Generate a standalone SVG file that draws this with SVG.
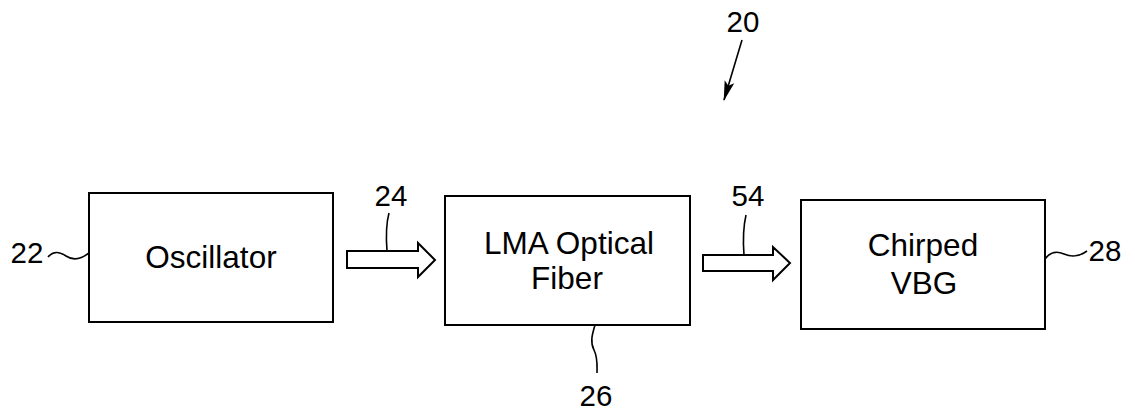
<svg xmlns="http://www.w3.org/2000/svg" width="1135" height="416" viewBox="0 0 1135 416">
<style>
.box{fill:#fff;stroke:#000;stroke-width:2}
.lbl{font-family:"Liberation Sans",Arial,sans-serif;font-size:31.5px;fill:#000;text-anchor:middle}
.num{font-family:"Liberation Sans",Arial,sans-serif;font-size:29.5px;fill:#000;text-anchor:middle}
.lead{fill:none;stroke:#000;stroke-width:1.6}
.blk{fill:#fff;stroke:#000;stroke-width:2;stroke-linejoin:miter}
</style>
<defs>
<marker id="ah" markerWidth="20" markerHeight="12" refX="19" refY="6" orient="auto" markerUnits="userSpaceOnUse">
<path d="M0,1 L20,6 L0,11 L4,6 Z" fill="#000"/>
</marker>
</defs>
<rect width="1135" height="416" fill="#fff"/>
<g id="node-oscillator">
<rect class="box" x="89" y="193" width="244" height="129"/>
<text class="lbl" x="211" y="268">Oscillator</text>
</g>
<g id="node-fiber">
<rect class="box" x="445" y="196" width="245" height="129"/>
<text class="lbl" x="569" y="254">LMA Optical</text>
<text class="lbl" x="567" y="289">Fiber</text>
</g>
<g id="node-vbg">
<rect class="box" x="801" y="200" width="244" height="129"/>
<text class="lbl" x="923" y="256">Chirped</text>
<text class="lbl" x="924" y="294">VBG</text>
</g>
<g id="connectors">
<path id="arrow24" class="blk" d="M347,251 L418,251 L418,243 L435,260 L418,277 L418,268 L347,268 Z"/>
<path id="arrow54" class="blk" d="M703,255 L773,255 L773,247 L790,263 L773,280 L773,271 L703,271 Z"/>
</g>
<g id="labels">
<text class="num" x="743" y="32">20</text>
<line class="lead" x1="742" y1="40" x2="724" y2="100" marker-end="url(#ah)"/>
<text class="num" x="27" y="263">22</text>
<path class="lead" d="M48,257 C54,250 60,252 66,256 C72,260 80,260 89,253"/>
<text class="num" x="391" y="206">24</text>
<path class="lead" d="M389,213 C386,224 386,238 387,251"/>
<text class="num" x="596" y="406">26</text>
<path class="lead" d="M595,325 C592,335 590,342 594,350 C598,358 597,366 597,373"/>
<text class="num" x="1105" y="261">28</text>
<path class="lead" d="M1045,259 C1050,252 1057,251 1064,254 C1071,257 1079,257 1087,251"/>
<text class="num" x="748" y="206">54</text>
<path class="lead" d="M746,215 C743,228 743,242 744,255"/>
</g>
</svg>
